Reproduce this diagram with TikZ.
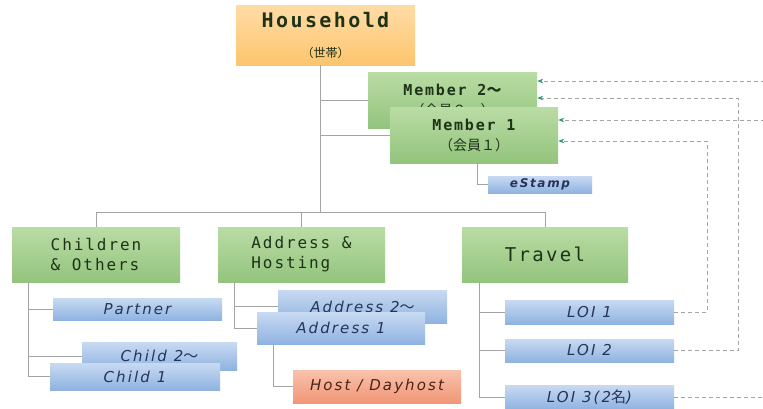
\documentclass[tikz,border=0pt]{standalone}
\usepackage{fontspec}
\usetikzlibrary{arrows.meta}
\newfontfamily\monof{DejaVu Sans Mono}[LetterSpace=12]
\newfontfamily\cjkf{Noto Sans CJK JP}
\newfontfamily\itf{DejaVu Sans}[LetterSpace=14]
\definecolor{gtop}{HTML}{BADCA5}
\definecolor{gbot}{HTML}{93C47D}
\definecolor{gtext}{HTML}{1E3218}
\definecolor{btop}{HTML}{C8DAF2}
\definecolor{bbot}{HTML}{8FB3E0}
\definecolor{btext}{HTML}{25345A}
\definecolor{otop}{HTML}{FFDCA6}
\definecolor{obot}{HTML}{FCC56E}
\definecolor{stop}{HTML}{F9C2AC}
\definecolor{sbot}{HTML}{F19676}
\definecolor{stext}{HTML}{4A2418}
\definecolor{lgray}{HTML}{A4A4A4}
\definecolor{arrowc}{HTML}{2E9A72}
\begin{document}
\begin{tikzpicture}[x=1pt,y=-1pt,
  box/.style={draw=none, inner sep=0pt, align=center},
  gbox/.style={box, top color=gtop, bottom color=gbot, text=gtext, font=\monof\fontsize{16}{20}\selectfont},
  bbox/.style={box, top color=btop, bottom color=bbot, text=btext, font=\itf\itshape\fontsize{15}{17}\selectfont},
  conn/.style={draw=lgray, line width=0.9pt},
  dsh/.style={draw=lgray, line width=0.8pt, dash pattern=on 4pt off 3pt, -{Stealth[length=6pt,width=4.5pt,color=arrowc]}},
  dshn/.style={draw=lgray, line width=0.8pt, dash pattern=on 4pt off 3pt}]
\useasboundingbox[fill=white] (0,0) rectangle (763,408);

% coordinates for trunks
\coordinate (tk) at (320,212);
\coordinate (cv) at (28,282);
\coordinate (av) at (234,282);
\coordinate (tv) at (479,282);
\coordinate (hx) at (273,0);
\coordinate (ex) at (477,0);
\coordinate (e1) at (765,81);
\coordinate (e2) at (765,120);
\coordinate (e3) at (765,397);

% nodes
\node[box, top color=otop, bottom color=obot, minimum width=179pt, minimum height=60pt, text=gtext,
  font=\fontsize{12}{30}\selectfont] (hh) at (325.5,35)
  {{\monof\bfseries\fontsize{20}{24}\selectfont Household}\\{\cjkf\fontsize{12}{14}\selectfont （世帯）}};

\node[gbox, minimum width=169pt, minimum height=56pt] (m2) at (452.5,100)
  {{\bfseries\fontsize{15}{19}\selectfont Member 2{\cjkf ～}}\\{\cjkf\fontsize{14}{16}\selectfont （会員２～）}};
\node[gbox, minimum width=168pt, minimum height=56pt] (m1) at (474,135)
  {{\bfseries\fontsize{15}{19}\selectfont Member 1}\\{\cjkf\fontsize{14}{16}\selectfont （会員１）}};
\node[bbox, minimum width=104pt, minimum height=17pt, font=\itf\bfseries\itshape\fontsize{12}{14}\selectfont] (es) at (540,184.5) {eStamp};

\node[gbox, minimum width=168pt, minimum height=55pt, align=left] (ch) at (96,254.5) {Children\\\& Others};
\node[gbox, minimum width=167pt, minimum height=55pt, align=left] (ad) at (301.5,254.5) {Address \&\\Hosting};
\node[gbox, minimum width=166pt, minimum height=55pt, font=\monof\fontsize{19}{22}\selectfont] (tr) at (545,254.5) {Travel};

\node[bbox, minimum width=169pt, minimum height=22pt] (pa) at (137.5,309) {Partner};
\node[bbox, minimum width=155pt, minimum height=28pt] (c2) at (159.5,356) {Child 2{\cjkf ～}};
\node[bbox, minimum width=170pt, minimum height=27pt] (c1) at (135,376.5) {Child 1};

\node[bbox, minimum width=169pt, minimum height=33pt] (a2) at (362.5,306.5) {Address 2{\cjkf ～}};
\node[bbox, minimum width=168pt, minimum height=32pt] (a1) at (341,328) {Address 1};
\node[box, top color=stop, bottom color=sbot, text=stext, font=\itf\itshape\fontsize{15}{17}\selectfont, minimum width=168pt, minimum height=33pt] (ho) at (377,386.5) {Host / Dayhost};

\node[bbox, minimum width=169pt, minimum height=24pt] (l1) at (589.5,312) {LOI 1};
\node[bbox, minimum width=169pt, minimum height=23pt] (l2) at (589.5,350.5) {LOI 2};
\node[bbox, minimum width=169pt, minimum height=24pt] (l3) at (589.5,397) {LOI 3(2{\cjkf 名})};

% solid connectors
\draw[conn] (hh.south -| tk) -- (tk);
\draw[conn] (tk |- m2.west) -- (m2.west);
\draw[conn] (tk |- m1.west) -- (m1.west);
\draw[conn] (ch.north) -- (ch.north |- tk) -| (tr.north);
\draw[conn] (ad.north) -- (ad.north |- tk);
\draw[conn] (m1.south -| ex) |- (es.west);

\draw[conn] (cv) -- (cv |- c1.west) -- (c1.west);
\draw[conn] (cv |- pa.west) -- (pa.west);
\draw[conn] (cv |- c2.west) -- (c2.west);

\draw[conn] (av) -- (av |- a1.west) -- (a1.west);
\draw[conn] (av |- a2.west) -- (a2.west);
\draw[conn] (a1.south -| hx) |- (ho.west);

\draw[conn] (tv) -- (tv |- l3.west) -- (l3.west);
\draw[conn] (tv |- l1.west) -- (l1.west);
\draw[conn] (tv |- l2.west) -- (l2.west);

% dashed links
\draw[dsh] (l1.east) -- ++(33,0) |- ([yshift=-6pt]m1.east);
\draw[dsh] (l2.east) -- ++(64,0) |- ([yshift=2pt]m2.east);
\draw[dshn] (l3.east) -- (e3);
\draw[dsh] (e1) -- ([yshift=19pt]m2.east);
\draw[dsh] (e2) -- ([yshift=15pt]m1.east);
\end{tikzpicture}
\end{document}
